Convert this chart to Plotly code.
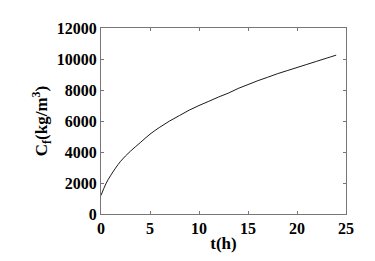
import plotly.graph_objects as go

t_hours = [0, 0.5, 1, 2, 3, 4, 5, 6, 7, 8, 9, 10, 11, 12, 13, 14, 15, 16, 17, 18, 19, 20, 21, 22, 23, 24]
conc = [1200, 1950, 2500, 3400, 4050, 4600, 5150, 5600, 6000, 6350, 6700, 7000, 7270, 7550, 7800, 8100,
        8350, 8600, 8820, 9050, 9250, 9450, 9650, 9850, 10050, 10250]
x_ticks = [0, 5, 10, 15, 20, 25]
y_ticks = [0, 2000, 4000, 6000, 8000, 10000, 12000]

SERIF = "Liberation Serif"

fig = go.Figure()
fig.add_trace(go.Scatter(x=t_hours, y=conc, mode="lines", line=dict(color="black", width=0.9), line_shape="spline"))

tickfont = dict(family=SERIF, size=16, color="black")
fig.update_layout(
    width=375, height=261,
    margin=dict(l=101, r=29, t=28, b=45),
    paper_bgcolor="white", plot_bgcolor="white",
    showlegend=False,
    font=dict(family=SERIF, size=16, color="black"),
)
fig.update_xaxes(
    range=[0, 25], tickvals=x_ticks, ticktext=["<b>%d</b>" % v for v in x_ticks], ticks="inside", ticklen=3, tickcolor="#777",
    showline=True, linecolor="#777", linewidth=1, mirror="ticks", showgrid=False, zeroline=False,
    tickfont=tickfont,
    title=dict(text="<b>t(h)</b>", standoff=0, font=dict(family=SERIF, size=17, color="black")),
)
fig.update_yaxes(
    range=[0, 12000], tickvals=y_ticks, ticktext=["<b>%d</b>" % v for v in y_ticks], ticks="inside", ticklen=3, tickcolor="#777",
    showline=True, linecolor="#777", linewidth=1, mirror="ticks", showgrid=False, zeroline=False,
    tickfont=tickfont,
    title=dict(text="<b>C<sub>f</sub>(kg/m<sup>3</sup>)</b>", standoff=4, font=dict(family=SERIF, size=17, color="black")),
)

fig.write_html("out.html")
